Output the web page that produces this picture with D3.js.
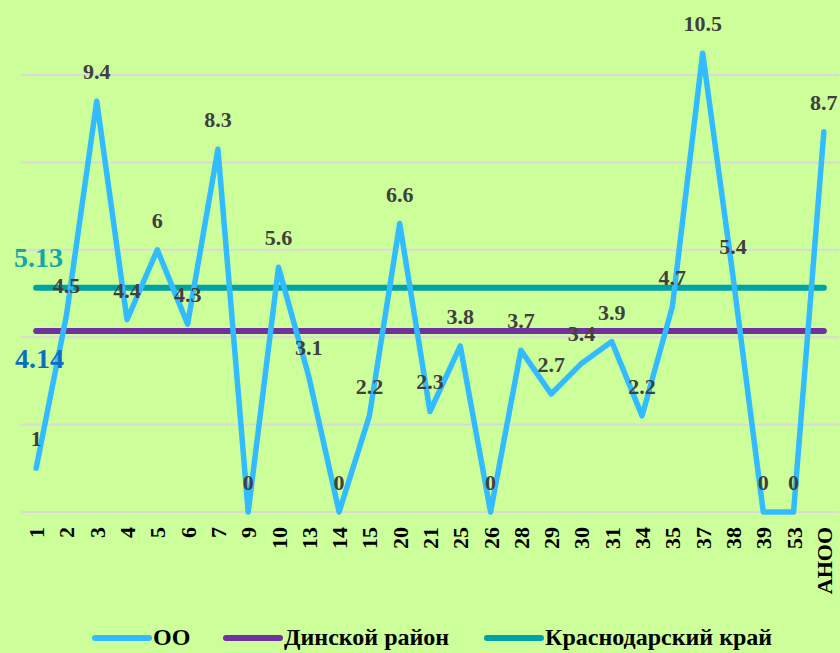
<!DOCTYPE html>
<html>
<head>
<meta charset="utf-8">
<script src="https://cdn.jsdelivr.net/npm/d3@7"></script>
<style>
  html, body { margin: 0; padding: 0; background: #ccff99; }
  svg { display: block; font-family: "Liberation Serif", "Times New Roman", serif; font-weight: bold; }
</style>
</head>
<body>
<div id="chart"></div>
<script>
const categories = ["1", "2", "3", "4", "5", "6", "7", "9", "10", "13", "14", "15", "20", "21",
  "25", "26", "28", "29", "30", "31", "34", "35", "37", "38", "39", "53", "АНОО"];
const ooValues = [1, 4.5, 9.4, 4.4, 6, 4.3, 8.3, 0, 5.6, 3.1, 0, 2.2, 6.6, 2.3,
  3.8, 0, 3.7, 2.7, 3.4, 3.9, 2.2, 4.7, 10.5, 5.4, 0, 0, 8.7];
const districtValue = 4.14;
const regionValue = 5.13;
const gridTicks = [0, 2, 4, 6, 8, 10];
const seriesNames = ["ОО", "Динской район", "Краснодарский край"];

const width = 840;
const height = 653;
const plot = { left: 21, right: 839, top: 75, bottom: 512 };

const colors = {
  oo: "#33bbff",
  district: "#7030a0",
  region: "#00a3a3",
  districtLabel: "#0a6ec4",
  regionLabel: "#17a5a5",
  grid: "#d9d9d9",
  label: "#404040",
};

const svg = d3.select("#chart")
  .append("svg")
  .attr("width", width)
  .attr("height", height);

svg.append("rect")
  .attr("width", width)
  .attr("height", height)
  .attr("fill", "#ccff99");

const x = d3.scaleBand()
  .domain(categories)
  .range([plot.left, plot.right]);

const y = d3.scaleLinear()
  .domain([0, 10])
  .range([plot.bottom, plot.top]);

const cx = (d) => x(d) + x.bandwidth() / 2;

// gridlines
svg.append("g")
  .selectAll("line")
  .data(gridTicks)
  .join("line")
  .attr("x1", plot.left)
  .attr("x2", plot.right)
  .attr("y1", (d) => y(d))
  .attr("y2", (d) => y(d))
  .attr("stroke", colors.grid)
  .attr("stroke-width", 2);

// x axis labels (rotated)
svg.append("g")
  .selectAll("text")
  .data(categories)
  .join("text")
  .attr("transform", (d) => `translate(${cx(d) + 8}, ${plot.bottom + 15}) rotate(-90)`)
  .attr("text-anchor", "end")
  .attr("font-size", 22)
  .attr("fill", "#000")
  .text((d) => d);

// reference lines
const first = categories[0];
const last = categories[categories.length - 1];

svg.append("line")
  .attr("x1", cx(first))
  .attr("x2", cx(last))
  .attr("y1", y(regionValue))
  .attr("y2", y(regionValue))
  .attr("stroke", colors.region)
  .attr("stroke-width", 6)
  .attr("stroke-linecap", "round");

svg.append("line")
  .attr("x1", cx(first))
  .attr("x2", cx(last))
  .attr("y1", y(districtValue))
  .attr("y2", y(districtValue))
  .attr("stroke", colors.district)
  .attr("stroke-width", 6)
  .attr("stroke-linecap", "round");

// OO series
const line = d3.line()
  .x((d, i) => cx(categories[i]))
  .y((d) => y(d));

svg.append("path")
  .datum(ooValues)
  .attr("d", line)
  .attr("fill", "none")
  .attr("stroke", colors.oo)
  .attr("stroke-width", 5.5)
  .attr("stroke-linejoin", "round")
  .attr("stroke-linecap", "round");

// data labels
svg.append("g")
  .selectAll("text")
  .data(ooValues)
  .join("text")
  .attr("x", (d, i) => cx(categories[i]))
  .attr("y", (d) => y(d) - 22)
  .attr("text-anchor", "middle")
  .attr("font-size", 22)
  .attr("fill", colors.label)
  .text((d) => d);

// reference values
svg.append("text")
  .attr("x", 14)
  .attr("y", y(regionValue) - 21)
  .attr("font-size", 28)
  .attr("fill", colors.regionLabel)
  .text(regionValue);

svg.append("text")
  .attr("x", 15)
  .attr("y", y(districtValue) + 37)
  .attr("font-size", 28)
  .attr("fill", colors.districtLabel)
  .text(districtValue);

// legend
const legendItems = [
  { name: seriesNames[0], color: colors.oo, x: 95 },
  { name: seriesNames[1], color: colors.district, x: 226 },
  { name: seriesNames[2], color: colors.region, x: 487 },
];

const legend = svg.append("g")
  .attr("transform", "translate(0, 638)");

const items = legend.selectAll("g")
  .data(legendItems)
  .join("g")
  .attr("transform", (d) => `translate(${d.x}, 0)`);

items.append("line")
  .attr("x1", 0)
  .attr("x2", 54)
  .attr("stroke", (d) => d.color)
  .attr("stroke-width", 6)
  .attr("stroke-linecap", "round");

items.append("text")
  .attr("x", 58)
  .attr("dy", "0.3em")
  .attr("font-size", 24)
  .attr("fill", "#000")
  .text((d) => d.name);
</script>
</body>
</html>
